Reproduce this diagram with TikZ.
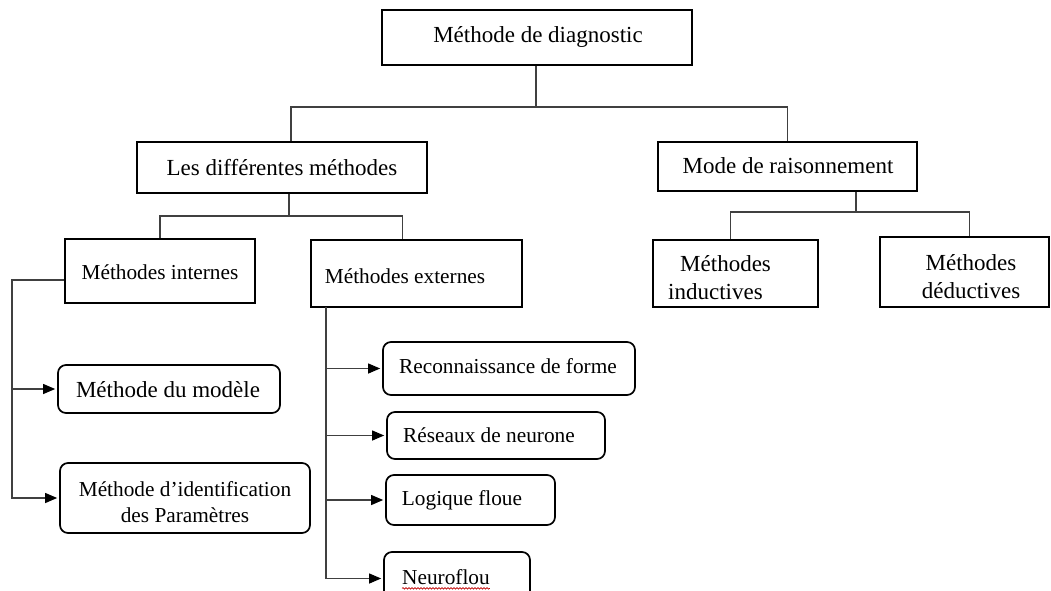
\documentclass[tikz,border=0pt]{standalone}
\usepackage{fontspec}
\setmainfont{Liberation Serif}
\usetikzlibrary{arrows.meta,decorations.pathmorphing}
\begin{document}
\begin{tikzpicture}[x=1pt,y=-1pt,
  box/.style={draw=black, line width=1.7pt, inner sep=0pt},
  rbox/.style={box, rounded corners=8pt},
  big/.style={font=\fontsize{23}{28}\selectfont, inner sep=0pt},
  small/.style={font=\fontsize{21.3}{26}\selectfont, inner sep=0pt},
  conn/.style={draw=black!75, line width=1.1pt},
  arr/.style={conn, -{Triangle[length=12pt,width=10pt,fill=black,color=black]}, shorten >=2pt}
]
\useasboundingbox (0,0) rectangle (1051,591);
\clip (0,0) rectangle (1051,591);

% ---- boxes ----
\node[box, minimum width=310, minimum height=55] (top) at (537,37.5) {};
\node[box, minimum width=290, minimum height=51] (diff) at (282,167.5) {};
\node[box, minimum width=259, minimum height=49] (mode) at (787.5,166.5) {};
\node[box, minimum width=190, minimum height=64] (int) at (160,271) {};
\node[box, minimum width=211, minimum height=67] (ext) at (416.5,273.5) {};
\node[box, minimum width=165, minimum height=67] (ind) at (735.5,273.5) {};
\node[box, minimum width=169, minimum height=70] (ded) at (964.5,272) {};
\node[rbox, minimum width=222, minimum height=48] (modele) at (169,389) {};
\node[rbox, minimum width=250, minimum height=70] (ident) at (185,498) {};
\node[rbox, minimum width=252, minimum height=53] (reco) at (509,368.5) {};
\node[rbox, minimum width=218, minimum height=47] (res) at (496,435.5) {};
\node[rbox, minimum width=169, minimum height=50] (log) at (470.5,500) {};
\node[rbox, minimum width=146, minimum height=53] (neuro) at (457,578.5) {};

% ---- labels ----
\node[big] (top-t) at (538,37) {Méthode de diagnostic};
\node[big] (diff-t) at (282,168) {Les différentes méthodes};
\node[big] (mode-t) at (788,166) {Mode de raisonnement};
\node[small] (int-t) at (160,272) {Méthodes internes};
\node[small] (ext-t) at (405,276) {Méthodes externes};
\node[big, align=left, anchor=west] (ind-t) at (668,278) {\hspace*{12pt}Méthodes\\inductives};
\node[big, align=center] (ded-t) at (971,277) {Méthodes\\déductives};
\node[big] (modele-t) at (168,390) {Méthode du modèle};
\node[small, align=center] (ident-t) at (185,502) {Méthode d’identification\\des Paramètres};
\node[small] (reco-t) at (508,366) {Reconnaissance de forme};
\node[small] (res-t) at (489,435) {Réseaux de neurone};
\node[small] (log-t) at (462,500) {Logique floue};
\node[small] (neuro-t) at (446,577) {Neuroflou};
\draw[red!75!black, line width=0.7pt, decorate,
      decoration={snake, amplitude=0.7pt, segment length=3pt}]
  ([yshift=-4pt]neuro-t.base west) -- ([yshift=-4pt]neuro-t.base east);

% ---- tree connectors ----
\coordinate (j1) at (536,107);
\draw[conn] (top.south -| j1) -- (j1);
\draw[conn] ([xshift=9pt]diff.north) |- (j1) -| (mode.north);

\coordinate (j2) at (289,216);
\draw[conn] (diff.south -| j2) -- (j2);
\draw[conn] (int.north) |- (j2) -| ([xshift=-14pt]ext.north);

\coordinate (j3) at (856,212);
\draw[conn] (mode.south -| j3) -- (j3);
\draw[conn] ([xshift=-5pt]ind.north) |- (j3) -| ([xshift=5pt]ded.north);

% ---- internal methods ----
\coordinate (lx) at (12,280);
\draw[arr] ([yshift=-9pt]int.west) -- (lx) |- (ident.west);
\draw[arr] (lx |- modele.west) -- (modele.west);

% ---- external methods ----
\coordinate (ex) at (326,307);
\draw[arr] (ex) |- (neuro.west);
\draw[arr] (ex |- reco.west) -- (reco.west);
\draw[arr] (ex |- res.west) -- (res.west);
\draw[arr] (ex |- log.west) -- (log.west);
\end{tikzpicture}
\end{document}
